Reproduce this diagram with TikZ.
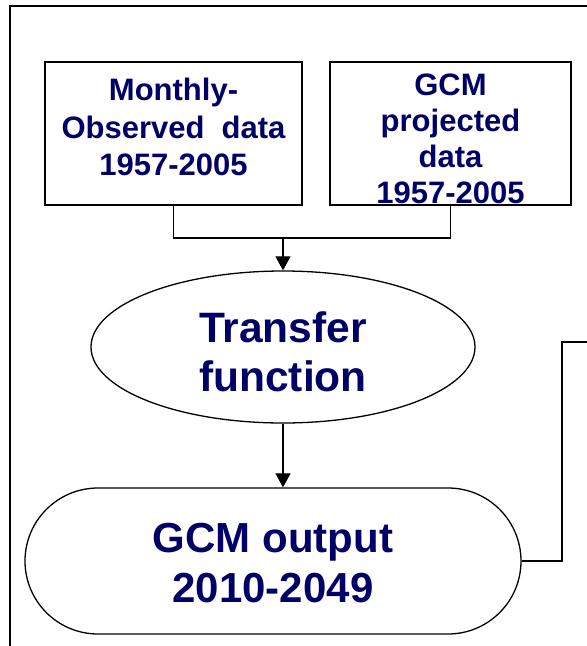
\documentclass[tikz,border=0pt]{standalone}
\usepackage{fontspec}
\setmainfont{Liberation Sans}
\usetikzlibrary{shapes.geometric,shapes.misc,arrows.meta}
\definecolor{navy}{RGB}{0,0,102}
\begin{document}
\begin{tikzpicture}[x=1pt,y=-1pt,
  frame/.style={line width=1.2pt},
  shapeline/.style={draw,line width=1.3pt,inner sep=0pt},
  databox/.style={shapeline,rectangle},
  oval/.style={shapeline,ellipse,minimum width=384pt,minimum height=152pt},
  stadium/.style={shapeline,rounded rectangle,minimum width=496pt,minimum height=146pt},
  txt/.style={inner sep=0pt,align=center,text=navy},
  boxtxt/.style={txt,font=\bfseries\fontsize{31}{37.5}\selectfont},
  bigtxt/.style={txt,font=\bfseries\fontsize{42.5}{49}\selectfont},
  link/.style={line width=1.1pt},
  arrowlink/.style={line width=1.1pt,-{Triangle[width=15pt,length=14pt]}}]
\useasboundingbox (0,0) rectangle (587,646);
\draw[frame] (587,6) -- (10,6) -- (10,646);
\node[databox,minimum width=257pt,minimum height=143pt] (obs) at (173.5,133.5) {};
\node[boxtxt] (obstext) at ([yshift=6.5pt]obs.center) {Monthly-\\Observed\ \ data\\1957-2005};
\node[databox,minimum width=241pt,minimum height=143pt] (gcm) at (450.5,133.5) {};
\node[boxtxt,font=\bfseries\fontsize{31}{36}\selectfont] (gcmtext) at ([yshift=-5.5pt]gcm.center)
  {GCM\\projected\\data\\1957-2005};
\coordinate (j) at (283,238);
\node[oval] (tf) at (283,347) {};
\node[bigtxt] (tftext) at ([yshift=-5pt]tf.center) {Transfer\\function};
\node[stadium] (out) at (273,561) {};
\node[bigtxt,font=\bfseries\fontsize{42}{50}\selectfont] (outtext) at ([yshift=-2.5pt]out.center) {GCM output\\2010-2049};
\coordinate (r) at (562,561);
\coordinate (e) at (587,342);
\draw[link] (obs.south) |- (j) -| (gcm.south);
\draw[arrowlink] (j) -- (tf.north);
\draw[arrowlink] (tf.south) -- (tf.south |- out.north);
\draw[link] (out.east) -- (r) |- (e);
\end{tikzpicture}
\end{document}
